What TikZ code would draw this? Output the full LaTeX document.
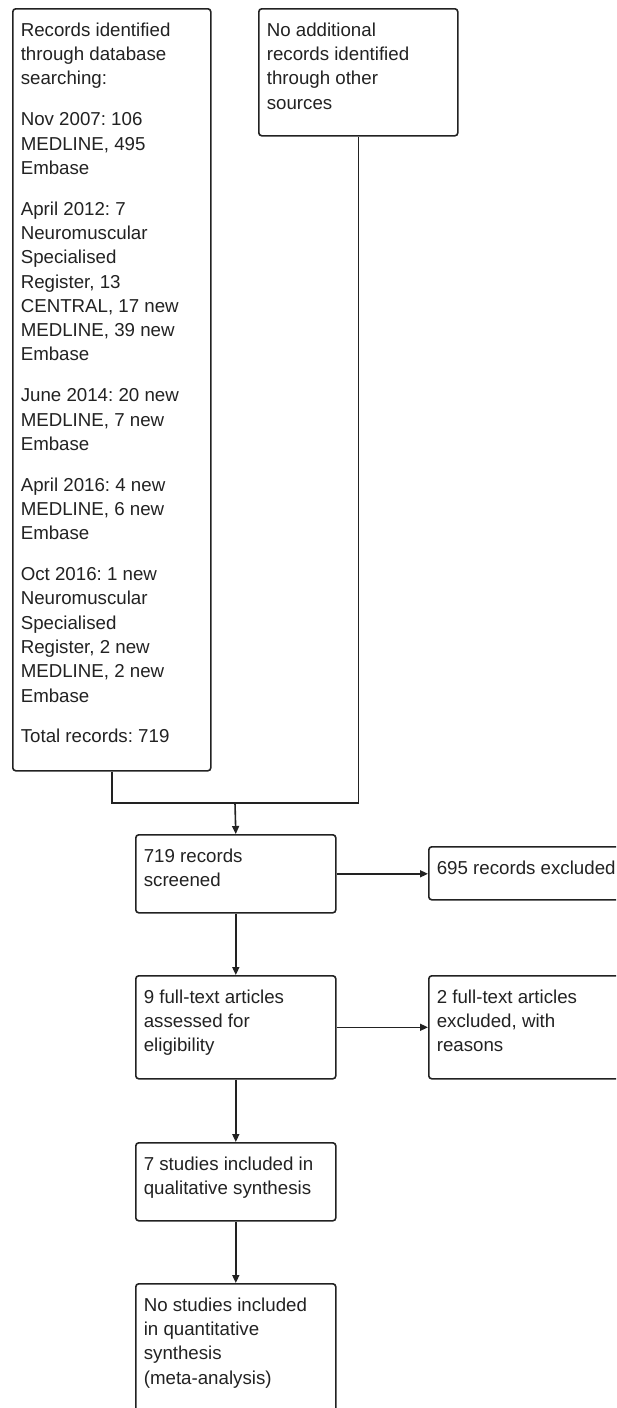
\documentclass[tikz,border=0pt]{standalone}
\usepackage{fontspec}
\setmainfont{Liberation Sans}
\usetikzlibrary{arrows.meta}
\definecolor{ink}{RGB}{34,34,34}
\newcommand{\bxtext}[3]{\parbox[c][#2][t]{#1}{\fontsize{18.7pt}{24.3pt}\selectfont\frenchspacing\raggedright\rule{0pt}{27.5pt}#3}}
\tikzset{
  flowbox/.style={draw=ink, line width=1.6pt, rounded corners=3pt, inner xsep=8pt, inner ysep=0pt, anchor=north west, text=ink},
  conn/.style={draw=ink, line width=1.6pt},
  arr/.style={conn, -{Triangle[length=8pt,width=7pt]}}
}
\begin{document}
\begin{tikzpicture}[x=1pt,y=-1pt]
\clip (0,0) rectangle (616,1408);
\fill[white] (0,0) rectangle (616,1408);

\node[flowbox] (A) at (12,8) {\bxtext{182pt}{762pt}{Records identified\\ through database\\ searching:\\[16.5pt]
Nov 2007: 106\\ MEDLINE, 495\\ Embase\\[16.5pt]
April 2012: 7\\ Neuromuscular\\ Specialised\\ Register, 13\\ CENTRAL, 17 new\\ MEDLINE, 39 new\\ Embase\\[16.5pt]
June 2014: 20 new\\ MEDLINE, 7 new\\ Embase\\[16.5pt]
April 2016: 4 new\\ MEDLINE, 6 new\\ Embase\\[16.5pt]
Oct 2016: 1 new\\ Neuromuscular\\ Specialised\\ Register, 2 new\\ MEDLINE, 2 new\\ Embase\\[16.5pt]
Total records: 719}};

\node[flowbox] (B) at (258,8) {\bxtext{183pt}{127pt}{No additional\\ records identified\\ through other\\ sources}};

\node[flowbox] (C) at (135,834) {\bxtext{184pt}{78pt}{719 records\\ screened}};
\node[flowbox] (D) at (428,846) {\bxtext{194pt}{53pt}{695 records excluded}};
\node[flowbox] (E) at (135,975) {\bxtext{184pt}{103pt}{9 full-text articles\\ assessed for\\ eligibility}};
\node[flowbox] (F) at (428,975) {\bxtext{194pt}{103pt}{2 full-text articles\\ excluded, with\\ reasons}};
\node[flowbox] (G) at (135,1142) {\bxtext{184pt}{78pt}{7 studies included in\\ qualitative synthesis}};
\node[flowbox] (H) at (135,1283) {\bxtext{184pt}{135pt}{No studies included\\ in quantitative\\ synthesis\\ (meta-analysis)}};

\coordinate (j) at (235,803);
\draw[conn] (A.south) |- (B.south |- j) -- (B.south);
\draw[arr] (j) -- (C.north);
\draw[arr] (C.east) -- (C.east -| D.west);
\draw[arr] (C.south) -- (E.north);
\draw[arr] (E.east) -- (E.east -| F.west);
\draw[arr] (E.south) -- (G.north);
\draw[arr] (G.south) -- (H.north);
\end{tikzpicture}
\end{document}
